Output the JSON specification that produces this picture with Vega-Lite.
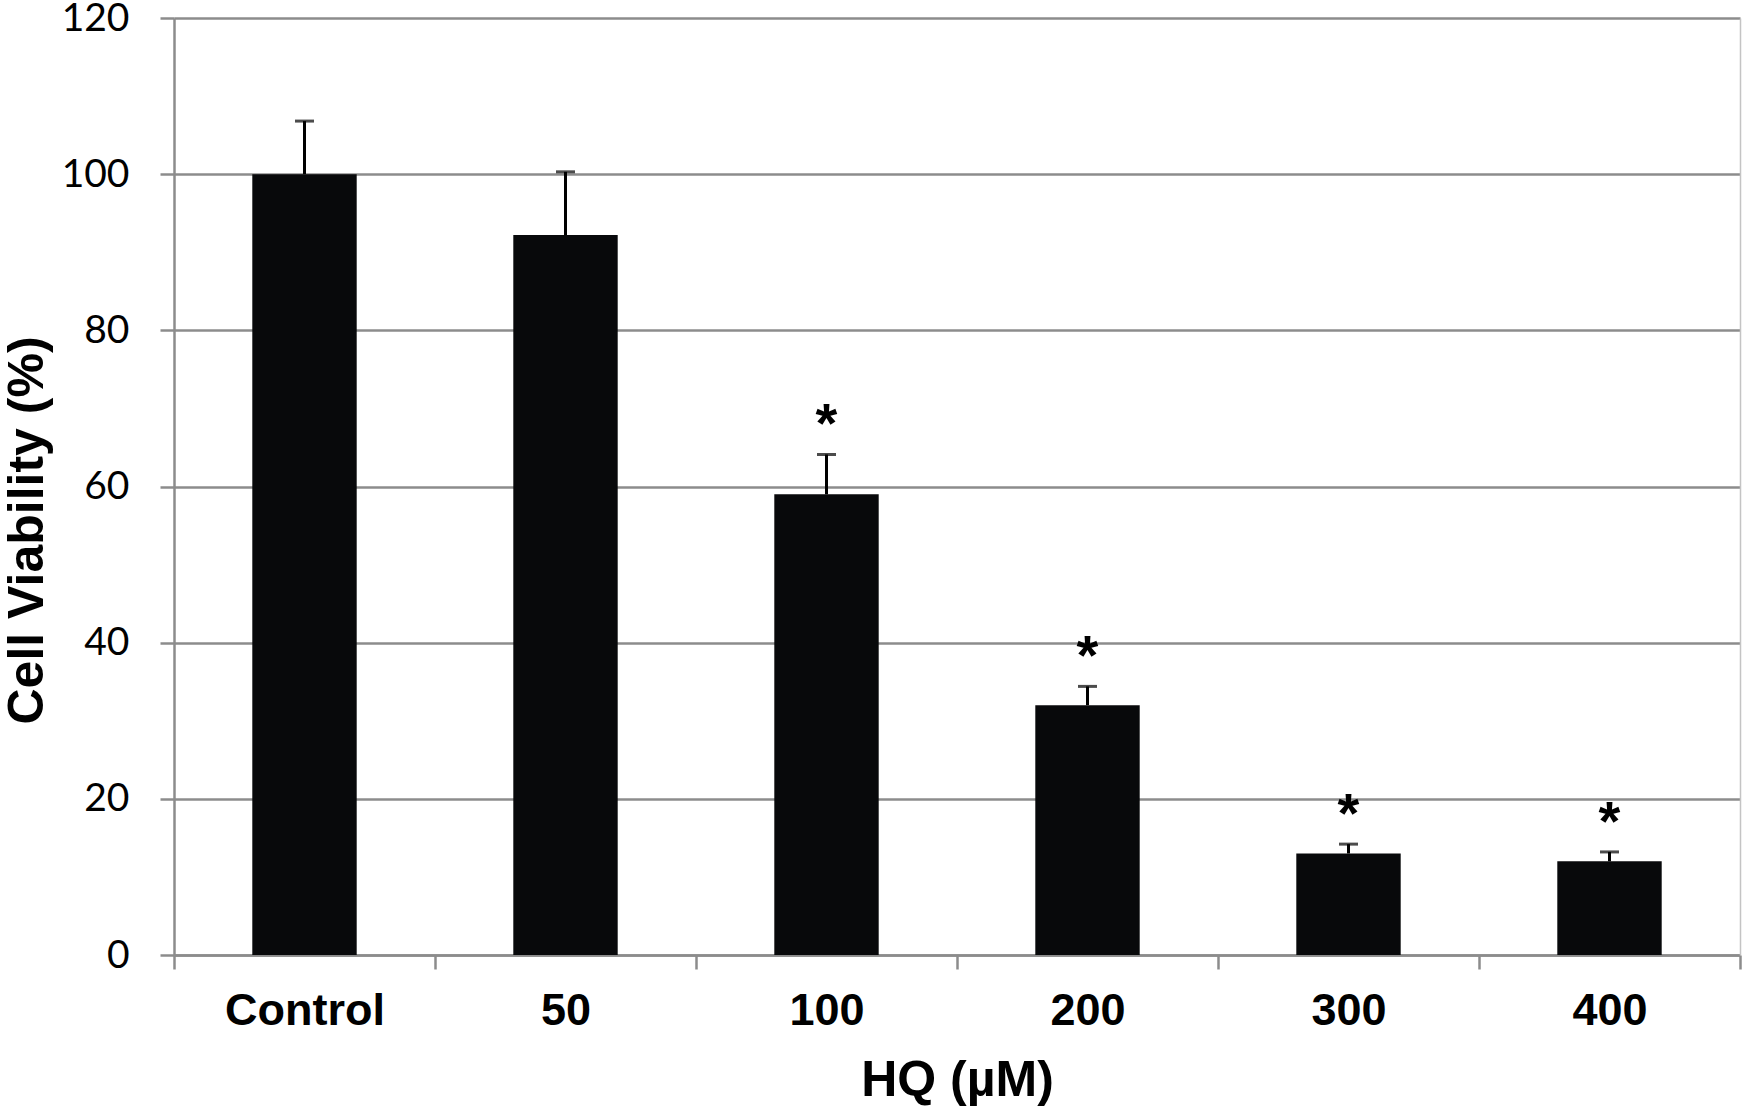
{
  "$schema": "https://vega.github.io/schema/vega-lite/v6.json",
  "width": 1566,
  "height": 937,
  "autosize": {"type": "none"},
  "padding": {"left": 174, "top": 18, "right": 4, "bottom": 157},
  "background": "white",
  "config": {"view": {"stroke": null}},
  "data": {
    "values": [
      {"group": "Control", "value": 100, "upper": 106.8, "sig": ""},
      {"group": "50", "value": 92.2, "upper": 100.3, "sig": ""},
      {"group": "100", "value": 59, "upper": 64.1, "sig": "*"},
      {"group": "200", "value": 32, "upper": 34.4, "sig": "*"},
      {"group": "300", "value": 13, "upper": 14.2, "sig": "*"},
      {"group": "400", "value": 12, "upper": 13.2, "sig": "*"}
    ]
  },
  "encoding": {
    "x": {
      "field": "group",
      "type": "nominal",
      "sort": null,
      "scale": {"paddingInner": 0, "paddingOuter": 0},
      "axis": {
        "title": "HQ (µM)",
        "labelAngle": 0,
        "tickBand": "extent",
        "domainColor": "#8c8c8c",
        "domainWidth": 2.5,
        "tickColor": "#8c8c8c",
        "tickWidth": 2.5,
        "tickSize": 14,
        "labelFont": "Liberation Sans",
        "labelFontWeight": "bold",
        "labelFontSize": 45,
        "labelColor": "#000000",
        "labelBaseline": "alphabetic",
        "labelPadding": 55,
        "titleFont": "Liberation Sans",
        "titleFontWeight": "bold",
        "titleFontSize": 50,
        "titleColor": "#000000",
        "titleBaseline": "alphabetic",
        "titleX": 783,
        "titleY": 140
      }
    }
  },
  "layer": [
    {
      "mark": {"type": "bar", "fill": "#08090b", "width": {"band": 0.4}},
      "encoding": {
        "y": {
          "field": "value",
          "type": "quantitative",
          "scale": {"domain": [0, 120], "nice": false},
          "axis": {
            "title": "Cell Viability (%)",
            "values": [0, 20, 40, 60, 80, 100, 120],
            "grid": true,
            "gridColor": "#8c8c8c",
            "gridWidth": 2.5,
            "domainColor": "#8c8c8c",
            "domainWidth": 2.5,
            "tickColor": "#8c8c8c",
            "tickWidth": 2.5,
            "tickSize": 14,
            "labelFont": "Lato",
            "labelFontSize": 39,
            "labelColor": "#000000",
            "labelPadding": 31,
            "titleFont": "Liberation Sans",
            "titleFontWeight": "bold",
            "titleFontSize": 50,
            "titleColor": "#000000",
            "titleBaseline": "alphabetic",
            "titleAngle": -90,
            "titleX": -132,
            "titleY": 512
          }
        }
      }
    },
    {
      "mark": {"type": "rule", "color": "#000000", "strokeWidth": 3},
      "encoding": {
        "y": {"field": "value", "type": "quantitative", "axis": null},
        "y2": {"field": "upper"}
      }
    },
    {
      "mark": {"type": "tick", "color": "#000000", "size": 19, "thickness": 3},
      "encoding": {
        "y": {
          "field": "upper",
          "type": "quantitative",
          "axis": {
            "orient": "right",
            "labels": false,
            "ticks": false,
            "grid": false,
            "title": null,
            "domainColor": "#c4c4c4",
            "domainWidth": 1.5
          }
        }
      }
    },
    {
      "mark": {"type": "text", "font": "Liberation Sans", "fontWeight": "bold", "fontSize": 56, "baseline": "alphabetic", "dy": -12, "color": "#000000"},
      "encoding": {
        "y": {"field": "upper", "type": "quantitative", "axis": null},
        "text": {"field": "sig"}
      }
    }
  ],
  "resolve": {"axis": {"y": "independent"}}
}
